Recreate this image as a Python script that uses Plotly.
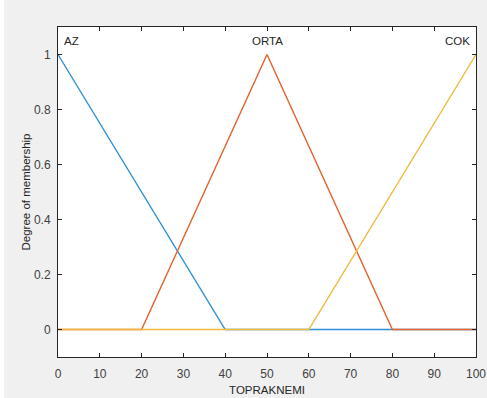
import plotly.graph_objects as go

# Membership functions for TOPRAKNEMI
az_x = [0, 40, 100]
az_y = [1, 0, 0]
orta_x = [0, 20, 50, 80, 100]
orta_y = [0, 0, 1, 0, 0]
cok_x = [0, 60, 100]
cok_y = [0, 0, 1]

mf_names = ["AZ", "ORTA", "COK"]
label_x = [1, 50, 99]
label_y = [1.05, 1.05, 1.05]
x_ticks = list(range(0, 101, 10))
y_ticks = [0, 0.2, 0.4, 0.6, 0.8, 1]
y_tick_text = ["0", "0.2", "0.4", "0.6", "0.8", "1"]

colors = ["#2f8fd4", "#e2622c", "#efb93a"]

fig = go.Figure()
for xs, ys, c in zip([az_x, orta_x, cok_x], [az_y, orta_y, cok_y], colors):
    fig.add_trace(go.Scatter(x=xs, y=ys, mode="lines",
                             line=dict(color=c, width=1.4),
                             showlegend=False, hoverinfo="skip"))

anchors = ["left", "center", "right"]
for name, lx, ly, a in zip(mf_names, label_x, label_y, anchors):
    fig.add_annotation(x=lx, y=ly, text=name, showarrow=False,
                       xanchor=a, yanchor="middle",
                       font=dict(family="Liberation Sans, Arial", size=11.5, color="#262626"))

axis_common = dict(showgrid=False, zeroline=False, showline=True,
                   linecolor="#262626", linewidth=1, mirror="ticks",
                   ticks="inside", ticklen=4, tickcolor="#262626", automargin=False,
                   tickfont=dict(family="Liberation Sans, Arial", size=12, color="#404040"))

fig.update_xaxes(range=[0, 100], tickvals=x_ticks,
                 title=dict(text="TOPRAKNEMI", standoff=5,
                            font=dict(family="Liberation Sans, Arial", size=11.5, color="#262626")),
                 ticklabelstandoff=6, **axis_common)
fig.update_yaxes(range=[-0.1, 1.1], tickvals=y_ticks, ticktext=y_tick_text,
                 title=dict(text="Degree of membership", standoff=0,
                            font=dict(family="Liberation Sans, Arial", size=11.5, color="#262626")),
                 ticklabelstandoff=4, **axis_common)

fig.add_shape(type="rect", xref="paper", yref="paper",
              x0=-58/418, x1=-54/418, y0=-41/330, y1=27/330 + 1,
              fillcolor="white", line=dict(width=0), layer="below")

fig.update_layout(width=487, height=398,
                  margin=dict(l=58, r=11, t=27, b=41),
                  paper_bgcolor="#f0f0f0", plot_bgcolor="white")

fig.write_html("out.html", config={"displayModeBar": False},
               post_script="document.body.style.margin='0';document.body.style.background='#f0f0f0';")
